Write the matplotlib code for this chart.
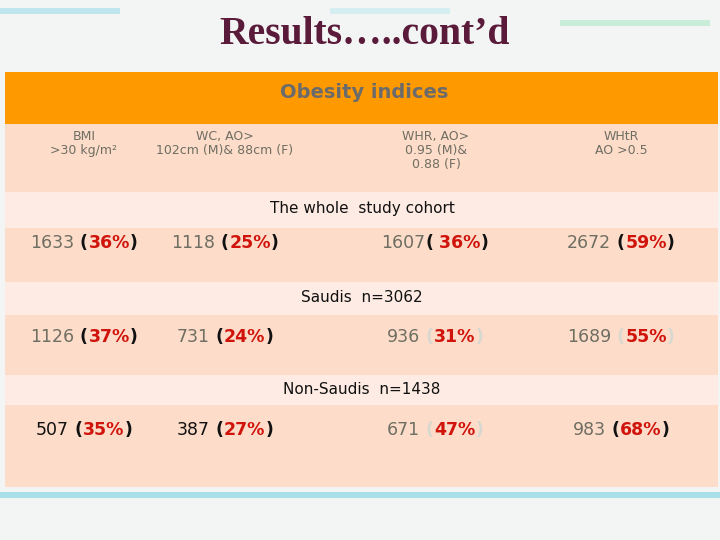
import matplotlib.pyplot as plt
from matplotlib.patches import Rectangle

plt.rcParams['font.family'] = ['DejaVu Sans']

headers = ["BMI\n>30 kg/m²", "WC, AO>\n102cm (M)& 88cm (F)",
           "WHR, AO>\n0.95 (M)&\n0.88 (F)", "WHtR\nAO >0.5"]
groups = ["The whole  study cohort", "Saudis  n=3062", "Non-Saudis  n=1438"]
counts = [["1633", "1118", "1607", "2672"],
          ["1126", "731", "936", "1689"],
          ["507", "387", "671", "983"]]
percents = [["36%", "25%", "36%", "59%"],
            ["37%", "24%", "31%", "55%"],
            ["35%", "27%", "47%", "68%"]]

col_x = [84, 225, 435, 621]
gray = "#6e6e62"
red = "#d0140c"

fig = plt.figure(figsize=(7.2, 5.4), dpi=100)
fig.patch.set_facecolor("#f3f5f5")
ax = fig.add_axes([0, 0, 1, 1])
ax.set_xlim(0, 720)
ax.set_ylim(540, 0)
ax.axis("off")

# decorative strokes
for (x0, y0, w, c) in [(0, 8, 120, "#bfe6ee"), (560, 20, 150, "#c8ecd8"),
                       (330, 8, 120, "#d6eef2"), (0, 492, 720, "#a9dfe8")]:
    ax.add_patch(Rectangle((x0, y0), w, 6, color=c, lw=0))

ax.text(365, 35, "Results…..cont’d", ha="center", va="center",
        fontsize=28.5, fontweight="bold", family="Liberation Serif", color="#5a1a3a")

ax.add_patch(Rectangle((5, 72), 713, 52, color="#ff9900", lw=0))
ax.text(364, 92, "Obesity indices", ha="center", va="center",
        fontsize=14, fontweight="bold", color="#6b6b6b")
ax.add_patch(Rectangle((5, 124), 713, 68, color="#fddcc9", lw=0))
for x, h in zip(col_x, headers):
    ax.text(x if x != col_x[2] else 436, 130, h, ha="center", va="top",
            fontsize=9, color=gray, linespacing=1.1)

band_y = [(192, 36), (282, 33), (375, 30)]
row_y = [(228, 54), (315, 60), (405, 82)]
text_y = [243, 337, 430]
cfg_paren = [["#111", "#111", "#111", "#111"],
             ["#111", "#111", "#d8d8d0", "#d8d8d0"],
             ["#111", "#111", "#d8d8d0", "#111"]]
num_col = [[gray] * 4, [gray] * 4, ["#111", "#111", gray, gray]]

r = fig.canvas.get_renderer()
for g in range(3):
    by, bh = band_y[g]
    ax.add_patch(Rectangle((5, by), 713, bh, color="#feece4", lw=0))
    ax.text(362, by + bh / 2 - 1, groups[g], ha="center", va="center",
            fontsize=11, color="#111")
    ry, rh = row_y[g]
    ax.add_patch(Rectangle((5, ry), 713, rh, color="#fddcc9", lw=0))
    for c in range(4):
        sep = "(" if (g == 0 and c == 2) else " ("
        open_p = " " if (g == 0 and c == 2) else ""
        parts = [(counts[g][c], num_col[g][c], "normal"),
                 (sep, cfg_paren[g][c], "bold"),
                 (open_p + percents[g][c], red, "bold"),
                 (")", cfg_paren[g][c], "bold")]
        texts = []
        prev = None
        for s, col, w in parts:
            if prev is None:
                t = ax.text(0, text_y[g], s, color=col, fontweight=w,
                            fontsize=12.5, va="center", ha="left")
            else:
                t = ax.annotate(s, xy=(1, 0), xycoords=prev, color=col,
                                fontweight=w, fontsize=12.5, va="bottom", ha="left")
            texts.append(t)
            prev = t
        fig.canvas.draw()
        x1 = texts[0].get_window_extent(r).x0
        x2 = texts[-1].get_window_extent(r).x1
        width = x2 - x1
        texts[0].set_x(col_x[c] - width / 2)

fig.savefig("out.png", dpi=100, facecolor=fig.get_facecolor())
